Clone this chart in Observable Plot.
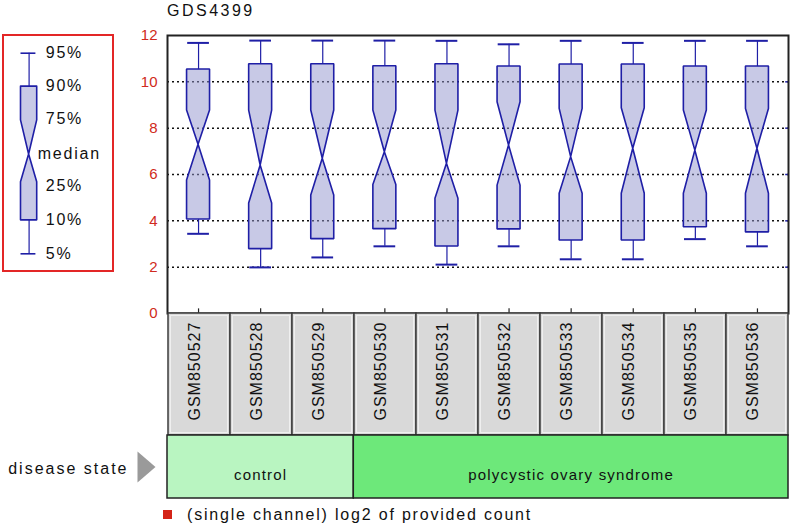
<!DOCTYPE html>
<html><head><meta charset="utf-8">
<script src="https://cdn.jsdelivr.net/npm/d3@7"></script>
<script src="https://cdn.jsdelivr.net/npm/@observablehq/plot@0.6"></script>
<style>
html,body{margin:0;padding:0;background:#fff;}
#chart{position:relative;width:792px;height:529px;overflow:hidden;font-family:"Liberation Sans",Arial,sans-serif;color:#111;background:#fff;}
</style></head>
<body><div id="chart"></div>
<script>
// ---------- data ----------
const title = "GDS4399";
const samples = ["GSM850527","GSM850528","GSM850529","GSM850530","GSM850531","GSM850532","GSM850533","GSM850534","GSM850535","GSM850536"];
const p95 = [11.68, 11.78, 11.78, 11.78, 11.77, 11.62, 11.77, 11.68, 11.77, 11.77];
const p90 = [10.53, 10.76, 10.76, 10.67, 10.76, 10.66, 10.75, 10.75, 10.66, 10.66];
const p75 = [8.76, 8.76, 8.76, 8.76, 8.76, 9.12, 8.83, 8.86, 8.76, 8.83];
const med = [7.28, 6.39, 6.68, 6.96, 6.46, 7.25, 6.75, 7.11, 7.03, 7.11];
const p25 = [5.74, 4.75, 5.09, 5.55, 4.95, 5.52, 5.17, 5.17, 5.17, 5.17];
const p10 = [4.06, 2.78, 3.21, 3.64, 2.89, 3.63, 3.15, 3.15, 3.72, 3.50];
const p5  = [3.44, 1.99, 2.42, 2.90, 2.11, 2.90, 2.34, 2.34, 3.21, 2.90];
const yTicks = [0, 2, 4, 6, 8, 10, 12];
const gridTicks = [2, 4, 6, 8, 10];
const groups = ["control", "polycystic ovary syndrome"];
const groupSizes = [3, 7];
const groupColors = ["#b9f5c1", "#6de87a"];
const factorLabel = "disease state";
const valueLabel = "(single channel) log2 of provided count";
// legend key (schematic ranks: 5%,10%,25%,median,75%,90%,95%)
const legendLabels = ["5%", "10%", "25%", "median", "75%", "90%", "95%"];
const legendLabelPos = [0, 1.02, 2.04, 2.99, 4.05, 5.03, 6];
const legendGlyph = [0, 1, 2.14, 2.97, 3.99, 5, 6];

// ---------- style ----------
const blue = "#1f1fa6";
const boxFill = "#9193cd";
const red = "#d02a20";
const font = "'Liberation Sans', Arial, sans-serif";
const baseStyle = {background: "transparent", fontFamily: font, fontSize: "16px", overflow: "visible", color: "#111"};

const chart = document.getElementById("chart");
function place(node, left, top, w, h) {
  const d = document.createElement("div");
  d.style.position = "absolute";
  d.style.left = left + "px";
  d.style.top = top + "px";
  if (w) d.style.width = w + "px";
  if (h) d.style.height = h + "px";
  d.appendChild(node);
  chart.appendChild(d);
  return d;
}

// ---------- main boxplot ----------
const n = samples.length;
const idx = samples.map((s, i) => i);
const halfW = 0.185, capW = 0.175;
const boxRows = idx.flatMap(i => {
  const c = i + 0.5;
  return [
    {s: samples[i], y: p10[i], x1: c - halfW, x2: c + halfW},
    {s: samples[i], y: p25[i], x1: c - halfW, x2: c + halfW},
    {s: samples[i], y: med[i], x1: c, x2: c},
    {s: samples[i], y: p75[i], x1: c - halfW, x2: c + halfW},
    {s: samples[i], y: p90[i], x1: c - halfW, x2: c + halfW}
  ];
});

const main = Plot.plot({
  width: 792, height: 316,
  marginLeft: 167, marginRight: 4, marginTop: 35, marginBottom: 3,
  style: baseStyle,
  x: {domain: [0, n], axis: null},
  y: {domain: [0, 12], axis: null},
  marks: [
    Plot.ruleY(gridTicks, {y: d => d, stroke: "#111", strokeWidth: 1.5, strokeDasharray: "2,3"}),
    Plot.areaX(boxRows, {y: "y", x1: "x1", x2: "x2", z: "s", curve: "linear",
      fill: boxFill, fillOpacity: 0.5, stroke: blue, strokeWidth: 1.6, strokeLinejoin: "miter"}),
    Plot.ruleX(idx, {x: i => i + 0.5, y1: i => p90[i], y2: i => p95[i], stroke: blue, strokeWidth: 1.2}),
    Plot.ruleX(idx, {x: i => i + 0.5, y1: i => p5[i], y2: i => p10[i], stroke: blue, strokeWidth: 1.2}),
    Plot.ruleY(idx, {y: i => p95[i], x1: i => i + 0.5 - capW, x2: i => i + 0.5 + capW, stroke: blue, strokeWidth: 2}),
    Plot.ruleY(idx, {y: i => p5[i], x1: i => i + 0.5 - capW, x2: i => i + 0.5 + capW, stroke: blue, strokeWidth: 2}),
    Plot.ruleY(gridTicks, {y: d => d, x1: () => n - 0.045, x2: () => n, stroke: blue, strokeWidth: 1.5}),
    Plot.ruleX(idx, {x: i => i + 0.5, y1: () => 0, y2: () => 0.2, stroke: "#222", strokeWidth: 1.2}),
    Plot.text(yTicks, {y: d => d, text: d => String(d), frameAnchor: "left", dx: -10, textAnchor: "end", fill: red, fontSize: 15}),
    Plot.frame({stroke: "#222", strokeWidth: 2})
  ]
});
place(main, 0, 0, 792, 316);

// ---------- sample label cells ----------
const cells = Plot.plot({
  width: 792, height: 124,
  marginLeft: 167, marginRight: 4, marginTop: 1, marginBottom: 1,
  style: {...baseStyle, letterSpacing: "1px"},
  x: {type: "band", domain: samples, axis: null, padding: 0},
  marks: [
    Plot.cell(samples, {x: d => d, fill: "#d9d9d9", stroke: "#3c3c3c", strokeWidth: 1.5}),
    Plot.cell(samples, {x: d => d, inset: 2.5, fill: "none", stroke: "#efefef", strokeWidth: 1}),
    Plot.text(samples, {x: d => d, text: d => d, frameAnchor: "bottom", dy: -15, rotate: -90, textAnchor: "start", fontSize: 16, fill: "#111"})
  ]
});
place(cells, 0, 312, 792, 124);

// ---------- disease state row ----------
const starts = groupSizes.map((g, i) => d3.sum(groupSizes.slice(0, i)));
const triangle = {draw(ctx) { ctx.moveTo(-9, -15.5); ctx.lineTo(9, 0); ctx.lineTo(-9, 15.5); ctx.closePath(); }};
const dis = Plot.plot({
  width: 792, height: 65,
  marginLeft: 167, marginRight: 4, marginTop: 1, marginBottom: 1,
  style: baseStyle,
  x: {domain: [0, n], axis: null},
  color: {type: "identity"},
  marks: [
    Plot.rect(groups, {x1: (d, i) => starts[i], x2: (d, i) => starts[i] + groupSizes[i], fill: (d, i) => groupColors[i], stroke: "#222", strokeWidth: 1.5}),
    Plot.text(groups, {x: (d, i) => starts[i] + groupSizes[i] / 2, text: d => d, frameAnchor: "middle", dy: 8, fontSize: 15, fill: "#111", style: "letter-spacing:1px"}),
    Plot.text([factorLabel], {text: d => d, frameAnchor: "left", dx: -39, dy: 1.5, textAnchor: "end", fontSize: 16, fill: "#111"}),
    Plot.dot([0], {frameAnchor: "left", dx: -21, symbol: triangle, fill: "#9a9a9a", stroke: "none"})
  ]
});
dis.querySelectorAll("text").forEach(t => t.style.letterSpacing = (t.textContent === factorLabel ? "2px" : "1.2px"));
place(dis, 0, 434, 792, 65);

// ---------- percentile key (left) ----------
const legRows = [
  {y: legendGlyph[1], x1: 0, x2: 1},
  {y: legendGlyph[2], x1: 0, x2: 1},
  {y: legendGlyph[3], x1: 0.5, x2: 0.5},
  {y: legendGlyph[4], x1: 0, x2: 1},
  {y: legendGlyph[5], x1: 0, x2: 1}
];
const legIdx = legendLabels.map((d, i) => i);
const key = Plot.plot({
  width: 108, height: 234,
  marginLeft: 16.5, marginRight: 75.3, marginTop: 16.7, marginBottom: 16.7,
  style: {...baseStyle, letterSpacing: "1.8px"},
  x: {domain: [0, 1], axis: null},
  y: {domain: [0, 6], axis: null},
  marks: [
    Plot.areaX(legRows, {y: "y", x1: "x1", x2: "x2", curve: "linear", fill: boxFill, fillOpacity: 0.5, stroke: blue, strokeWidth: 1.6}),
    Plot.ruleX([0], {x: () => 0.5, y1: () => legendGlyph[5], y2: () => legendGlyph[6], stroke: blue, strokeWidth: 1.2}),
    Plot.ruleX([0], {x: () => 0.5, y1: () => legendGlyph[0], y2: () => legendGlyph[1], stroke: blue, strokeWidth: 1.2}),
    Plot.ruleY([legendGlyph[0], legendGlyph[6]], {y: d => d, x1: () => 0, x2: () => 0.92, stroke: blue, strokeWidth: 1.6}),
    Plot.text(legIdx.filter(i => legendLabels[i] !== "median"), {x: () => 1, y: i => legendLabelPos[i], text: i => legendLabels[i], dx: 8.5, textAnchor: "start", fontSize: 16, fill: "#111"}),
    Plot.text(legIdx.filter(i => legendLabels[i] === "median"), {x: () => 1, y: i => legendLabelPos[i], text: i => legendLabels[i], dx: 0.5, textAnchor: "start", fontSize: 16, fill: "#111"})
  ]
});
const keyBox = document.createElement("div");
keyBox.style.cssText = "position:absolute;left:2px;top:34px;width:112px;height:238px;box-sizing:border-box;border:2px solid #e32626;";
const keyInner = document.createElement("div");
keyInner.style.cssText = "position:absolute;left:0;top:0;width:108px;height:234px;";
keyInner.appendChild(key);
keyBox.appendChild(keyInner);
chart.appendChild(keyBox);

// ---------- title & value legend ----------
const t = document.createElement("div");
t.textContent = title;
t.style.cssText = "position:absolute;left:167px;top:3px;font-size:16px;line-height:16px;letter-spacing:2.5px;color:#111;white-space:nowrap;";
chart.appendChild(t);

const sq = document.createElement("div");
sq.style.cssText = "position:absolute;left:163px;top:510px;width:9px;height:9px;background:#d42418;";
chart.appendChild(sq);
const vl = document.createElement("div");
vl.textContent = valueLabel;
vl.style.cssText = "position:absolute;left:187px;top:507px;font-size:16px;line-height:16px;letter-spacing:1.8px;color:#111;white-space:nowrap;";
chart.appendChild(vl);
</script>
</body></html>
